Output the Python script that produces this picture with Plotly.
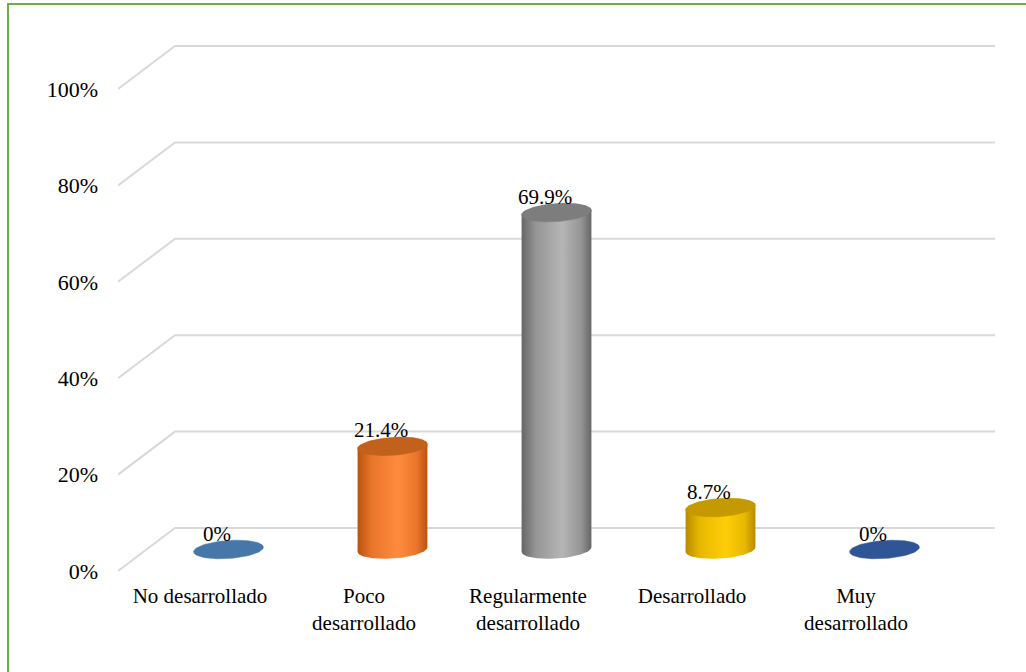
import numpy as np
import plotly.graph_objects as go

# ---------------- data ----------------
categories = ["No desarrollado", "Poco<br>desarrollado", "Regularmente<br>desarrollado",
              "Desarrollado", "Muy<br>desarrollado"]
values = [0.0, 0.214, 0.699, 0.087, 0.0]
value_labels = ["0%", "21.4%", "69.9%", "8.7%", "0%"]
y_ticks = [0.0, 0.2, 0.4, 0.6, 0.8, 1.0]
y_tick_labels = ["0%", "20%", "40%", "60%", "80%", "100%"]

top_colors = ["#4677A8", "#C2611C", "#7D7D7D", "#C49A00", "#2F5597"]
edge_colors = ["#3F6E9C", "#B9530F", "#666666", "#B88A00", "#2A4C88"]
mid_colors = ["#5B8FC4", "#E8752A", "#959595", "#E6B800", "#3D67AE"]
light_colors = ["#6FA0D4", "#FF8C3E", "#B5B5B5", "#FFCD08", "#4A78C2"]

# ---------------- layout constants ----------------
W, H = 1026, 672
ML, MR, MT, MB = 118, 31, 30, 92
PX_X = 164.0   # pixels per category
PX_Y = 482.0   # pixels per 100 %
plot_w = W - ML - MR
plot_h = H - MT - MB
x_range = [-0.5, -0.5 + plot_w / PX_X]
v_bottom = -9.0 / PX_Y
y_range = [v_bottom, v_bottom + plot_h / PX_Y]

DX = 57.0 / PX_X      # depth offset (x units)
DY = 43.0 / PX_Y      # depth offset (y units)
MX, MY = DX / 2, DY / 2   # bars sit at mid depth

A_PX, B_PX = 35.0, 9.0    # ellipse semi-axes in pixels
TILT = np.deg2rad(4.0)

FONT = '"Liberation Serif", "Times New Roman", Times, serif'


def ellipse(xc, vc, t):
    px = A_PX * np.cos(t) * np.cos(TILT) - B_PX * np.sin(t) * np.sin(TILT)
    py = A_PX * np.cos(t) * np.sin(TILT) + B_PX * np.sin(t) * np.cos(TILT)
    return xc + px / PX_X, vc + py / PX_Y


fig = go.Figure()

for i, v in enumerate(values):
    xc = i + MX
    vb = MY
    vt = MY + v
    if v > 0:
        bx, by = ellipse(xc, vb, np.linspace(np.pi, 2 * np.pi, 60))
        tx, ty = ellipse(xc, vt, np.linspace(0, np.pi, 60))
        xs = np.concatenate([bx, tx, bx[:1]])
        ys = np.concatenate([by, ty, by[:1]])
        fig.add_trace(go.Scatter(
            x=xs, y=ys, mode="lines", fill="toself",
            line=dict(width=0, color=edge_colors[i]),
            fillgradient=dict(type="horizontal",
                              colorscale=[[0.0, edge_colors[i]], [0.2, mid_colors[i]],
                                          [0.58, light_colors[i]], [0.85, mid_colors[i]],
                                          [1.0, edge_colors[i]]]),
            hoverinfo="skip", showlegend=False))
    ex, ey = ellipse(xc, vt, np.linspace(0, 2 * np.pi, 120))
    fig.add_trace(go.Scatter(
        x=ex, y=ey, mode="lines", fill="toself",
        line=dict(width=0.5, color=top_colors[i]), fillcolor=top_colors[i],
        hoverinfo="skip", showlegend=False))
    fig.add_annotation(x=xc, y=vt, text=value_labels[i], showarrow=False,
                       xanchor="center", yanchor="middle", xshift=-12, yshift=16,
                       font=dict(family=FONT, size=21, color="#000000"))

# gridlines: side-wall diagonal + back-wall horizontal
for tv in y_ticks:
    fig.add_shape(type="path",
                  path=f"M {x_range[0]},{tv} L {x_range[0] + DX},{tv + DY} L {x_range[1]},{tv + DY}",
                  xref="x", yref="y", line=dict(color="#D9D9D9", width=2), layer="below")

# outer green frame (only top and left visible)
px2x = lambda p: (p - ML) / plot_w
py2y = lambda p: (H - MB - p) / plot_h
fig.add_shape(type="rect", xref="paper", yref="paper",
              x0=px2x(8), x1=px2x(W + 20), y0=py2y(H + 20), y1=py2y(4),
              line=dict(color="#70AD47", width=2), fillcolor="rgba(0,0,0,0)", layer="below")

fig.update_layout(
    width=W, height=H,
    margin=dict(l=ML, r=MR, t=MT, b=MB, autoexpand=False),
    paper_bgcolor="white", plot_bgcolor="white",
    showlegend=False,
    font=dict(family=FONT, size=21, color="#000000"),
    xaxis=dict(range=x_range, tickvals=list(range(len(categories))), ticktext=categories,
               showgrid=False, zeroline=False, showline=False, ticks="",
               ticklabelstandoff=1, fixedrange=True,
               tickfont=dict(family=FONT, size=21, color="#000000")),
    yaxis=dict(range=y_range, tickvals=y_ticks, ticktext=y_tick_labels,
               showgrid=False, zeroline=False, showline=False, ticks="",
               ticklabelstandoff=19, fixedrange=True,
               tickfont=dict(family=FONT, size=22, color="#000000")),
)

fig.write_html("out.html")
